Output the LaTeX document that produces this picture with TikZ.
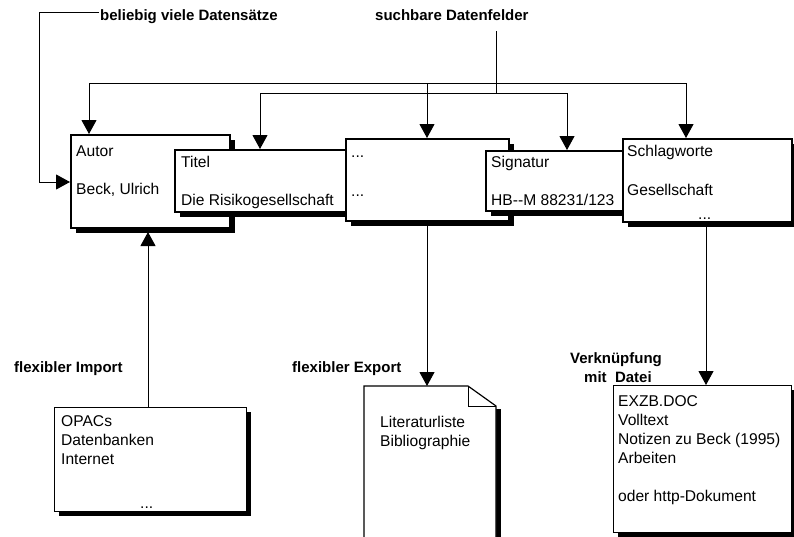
\documentclass[tikz,border=0pt]{standalone}
\usepackage{fontspec}
\setmainfont{Liberation Sans}
\usetikzlibrary{arrows.meta,shadows}
\begin{document}
\begin{tikzpicture}[x=1pt,y=-1pt,
  txt/.style={font=\fontsize{15.6}{18}\selectfont, inner sep=0pt, anchor=base west},
  lbl/.style={font=\fontsize{15}{18}\selectfont\bfseries, inner sep=0pt, anchor=base west},
  boxthick/.style={draw=black, line width=2pt, fill=white, inner sep=0pt, anchor=north west,
    general shadow={shadow xshift=4.5pt, shadow yshift=-4.5pt, fill=black}},
  boxthin/.style={draw=black, line width=1.2pt, fill=white, inner sep=0pt, anchor=north west,
    general shadow={shadow xshift=4.5pt, shadow yshift=-4.5pt, fill=black}},
  conn/.style={draw=black, line width=1pt},
  tri/.style={-{Triangle[width=15pt,length=14pt]}},
]
\useasboundingbox[fill=white] (0,0) rectangle (794,536);

% ---- top boxes (draw order gives overlaps)
\node[boxthick, minimum width=159pt, minimum height=93pt] (autor) at (70,134) {};
\node[txt] (tAutor) at (76,156) {Autor};
\node[txt] (tBeck) at (76,194) {Beck, Ulrich};

\node[boxthick, minimum width=181pt, minimum height=62pt] (titel) at (174,149) {};
\node[txt] (tTitel) at (181,167) {Titel};
\node[txt] (tRisiko) at (181,205) {Die Risikogesellschaft};

\node[boxthick, minimum width=163pt, minimum height=82pt] (dots) at (345,138) {};
\node[txt] (tD1) at (351,157) {...};
\node[txt] (tD2) at (351,196) {...};

\node[boxthick, minimum width=145pt, minimum height=60pt] (signatur) at (485,150) {};
\node[txt] (tSig) at (491,167) {Signatur};
\node[txt] (tHB) at (491,205) {HB-{}-M 88231/123};

\node[boxthick, minimum width=169pt, minimum height=83pt] (schlag) at (622,138) {};
\node[txt] (tSchlag) at (627,156) {Schlagworte};
\node[txt] (tGes) at (627,195) {Gesellschaft};
\node[txt] (tSD) at (698,219) {...};

% ---- bottom boxes
\node[boxthin, minimum width=192pt, minimum height=104pt] (opacs) at (54,407) {};
\node[txt] (tOP1) at (61,426) {OPACs};
\node[txt] (tOP2) at (61,445) {Datenbanken};
\node[txt] (tOP3) at (61,464) {Internet};
\node[txt] (tOP4) at (140,508) {...};

% document with folded corner
\fill[black] (496,409) rectangle (501,540);
\draw[line width=1.2pt, fill=white] (364,540) -- (364,386) -- (468,386) -- (496,406) -- (496,540);
\draw[line width=1pt] (468,386) -- (468,406) -- (496,406);
\coordinate (docTop) at (427,386);
\node[txt] (tLit) at (380,427) {Literaturliste};
\node[txt] (tBib) at (380,446) {Bibliographie};

\node[boxthin, minimum width=178pt, minimum height=147pt] (verk) at (613,385) {};
\node[txt] (tV1) at (618,406) {EXZB.DOC};
\node[txt] (tV2) at (618,425) {Volltext};
\node[txt] (tV3) at (618,444) {Notizen zu Beck (1995)};
\node[txt] (tV4) at (618,463) {Arbeiten};
\node[txt] (tV5) at (618,501) {oder http-Dokument};

% ---- labels
\node[lbl] (lBel) at (100,20) {beliebig viele Datensätze};
\node[lbl] (lSuch) at (375,20) {suchbare Datenfelder};
\node[lbl] (lImp) at (14,372) {flexibler Import};
\node[lbl] (lExp) at (292,372) {flexibler Export};
\node[lbl] (lVer1) at (570,363) {Verknüpfung};
\node[lbl] (lVer2) at (584,382) {mit\ \ Datei};

% ---- connectors
\coordinate (belS) at (99,12);
\coordinate (belC) at (39,12);
\coordinate (belT) at (70,182);
\draw[conn,tri] (belS) -- (belC) |- (belT);

\coordinate (sTop) at (496,31);
\coordinate (sJoin) at (496,93);
\coordinate (a1) at (89,83);
\coordinate (a2) at (427,83);
\coordinate (a3) at (686,83);
\coordinate (b1) at (260,93);
\coordinate (b2) at (567,93);
\draw[conn] (sTop) -- (sJoin);
\draw[conn] (a1) -- (a3);
\draw[conn] (b1) -- (b2);
\draw[conn,tri] (a1) -- (a1 |- autor.north);
\draw[conn,tri] (a2) -- (a2 |- dots.north);
\draw[conn,tri] (a3) -- (a3 |- schlag.north);
\draw[conn,tri] (b1) -- (b1 |- titel.north);
\draw[conn,tri] (b2) -- (b2 |- signatur.north);

\coordinate (impB) at (148,407);
\coordinate (impT) at (148,232);
\draw[conn,tri] (impB) -- (impT);

\coordinate (expS) at (427,225);
\draw[conn,tri] (expS) -- (docTop);

\coordinate (verS) at (706,226);
\coordinate (verT) at (706,385);
\draw[conn,tri] (verS) -- (verT);
\end{tikzpicture}
\end{document}
